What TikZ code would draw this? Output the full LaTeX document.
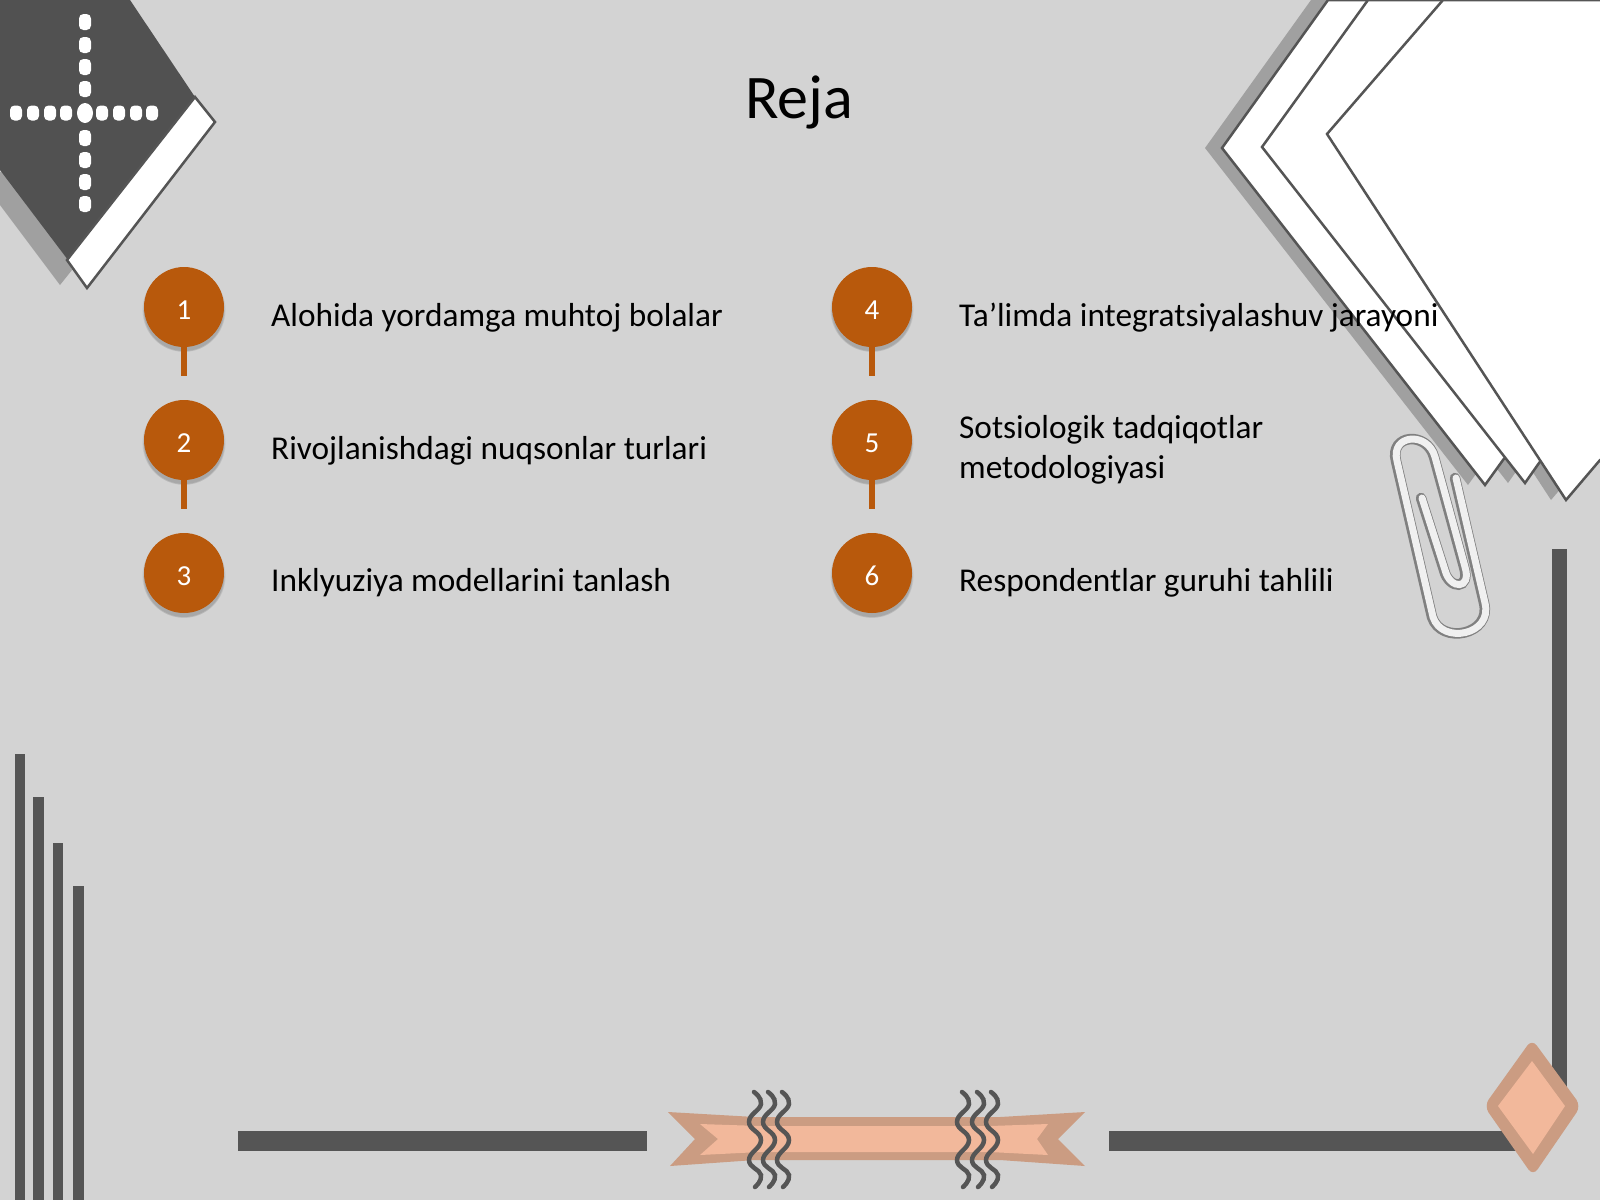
\documentclass[tikz,border=0pt]{standalone}
\usepackage{fontspec}
\setmainfont{Carlito}
\usetikzlibrary{shadows}
\definecolor{pagegray}{HTML}{D3D3D3}
\definecolor{bardark}{HTML}{555555}
\definecolor{sheetshade}{HTML}{A0A0A0}
\definecolor{rust}{HTML}{B8590C}
\definecolor{peach}{HTML}{F2B89B}
\definecolor{peachdark}{HTML}{CB9C82}
\tikzset{
  numdot/.style={circle,fill=rust,minimum size=80pt,inner sep=0pt,text=white,
    text height=24pt,text depth=0pt,font=\fontsize{29}{34}\selectfont,
    drop shadow={shadow xshift=0pt,shadow yshift=-3pt,shadow scale=1.04,opacity=.05,fill=black},
    drop shadow={shadow xshift=0pt,shadow yshift=-4pt,shadow scale=1.02,opacity=.07,fill=black},
    drop shadow={shadow xshift=0pt,shadow yshift=-4pt,shadow scale=1,opacity=.09,fill=black}},
  stem/.style={draw=rust,line width=5.5pt},
  item/.style={anchor=west,align=left,inner sep=0pt,font=\fontsize{33.3}{40}\selectfont},
  sheet/.style={fill=white,draw=bardark,line width=2.5pt,line join=miter},
  bar/.style={fill=bardark},
  bookdot/.style={fill=white,rounded corners=4.5pt},
  wave/.style={draw=bardark,line width=4.5pt,line cap=round},
}
\def\sheetone{(1328,0) -- (1222,148) -- (1485,485) -- (1503,460) -- (1520,440) -- (1400,0)}
\def\sheettwo{(1368,0) -- (1262,147) -- (1525,483) -- (1539,463) -- (1560,440) -- (1450,0)}
\def\sheetthree{(1443,0) -- (1327,134) -- (1566,500) -- (1600,460) -- (1620,460) -- (1620,0)}
\def\clippath{(1422,498) -- (1445,570) .. controls (1450,590) and (1472,590) .. (1465,567) -- (1435,457) .. controls (1428,431) and (1390,434) .. (1397,461) -- (1433,617) .. controls (1442,645) and (1493,635) .. (1485,603) -- (1456,478)}
\begin{document}
\begin{tikzpicture}[x=1pt,y=-1pt]
\useasboundingbox (0,0) rectangle (1600,1200);
\fill[pagegray] (0,0) rectangle (1600,1200);
\clip (0,0) rectangle (1600,1200);

% book corner
\fill[sheetshade] (0,172) -- (0,205) -- (60,285) -- (72,270) -- (30,172) -- cycle;
\fill[bardark!95!black] (0,0) -- (130,0) -- (195,97) -- (68,260) -- (0,170) -- cycle;
\draw[sheet] (195,97) -- (215,122) -- (87,288) -- (67,260) -- cycle;
\foreach \y in {22,45,67,89,138,160,182,204}
  \fill[bookdot] (85-6,\y-8) rectangle (85+6,\y+8);
\foreach \x in {16,33,50,66,102,119,136,152}
  \fill[bookdot] (\x-6,113-7.5) rectangle (\x+6,113+7.5);
\fill[white] (85,113) ellipse (8pt and 10pt);

% sheets
\fill[sheetshade,xshift=-17pt] \sheetone -- cycle;
\fill[sheetshade,xshift=-17pt] \sheettwo -- cycle;
\fill[sheetshade,xshift=-15pt] \sheetthree -- cycle;
\draw[sheet] \sheetone -- cycle;
\draw[sheet] \sheettwo -- cycle;
\draw[sheet] \sheetthree -- cycle;

% paper clip
\draw[draw=gray,line width=10.5pt,line cap=round,xshift=-1pt] \clippath;
\draw[draw=white!94!black,line width=7pt,line cap=round] \clippath;

% bars
\fill[bar] (15,754) rectangle (25,1200);
\fill[bar] (33,797) rectangle (44,1200);
\fill[bar] (53,843) rectangle (63,1200);
\fill[bar] (73,886) rectangle (84,1200);
\fill[bar] (238,1131) rectangle (647,1151);
\fill[bar] (1109,1131) rectangle (1520,1151);
\fill[bar] (1552,549) rectangle (1567,1090);

% ribbon
\fill[peachdark] (668,1112) -- (755,1117) -- (1000,1117) -- (1085,1112) -- (1058,1139) -- (1085,1166) -- (1000,1160) -- (755,1160) -- (670,1166) -- (695,1139) -- cycle;
\fill[peach] (700,1124) -- (760,1126) -- (990,1126) -- (1048,1124) -- (1037,1139) -- (1048,1155) -- (990,1152) -- (760,1152) -- (700,1155) -- (718,1139) -- cycle;
\foreach \x in {757,771,785,965,980,994}
  \draw[wave,xshift=\x pt] plot[smooth,tension=.8] coordinates {(-3,1092) (4,1104) (-8,1122) (4,1140) (-8,1160) (4,1175) (-2,1187)};

% diamond
\fill[peachdark,rounded corners=8pt] (1532,1039) -- (1581,1106) -- (1533,1176) -- (1484,1106) -- cycle;
\fill[peach] (1532,1061) -- (1565,1106) -- (1533,1154) -- (1498,1106) -- cycle;

% title and list
\node[font=\fontsize{62}{74}\selectfont] (title) at (799,102) {Reja};

\node[numdot] (n1) at (184,307) {1};
\node[numdot] (n2) at (184,440) {2};
\node[numdot] (n3) at (184,573) {3};
\node[numdot] (n4) at (872,307) {4};
\node[numdot] (n5) at (872,440) {5};
\node[numdot] (n6) at (872,573) {6};

\coordinate (e1) at (184,376);
\coordinate (e2) at (184,509);
\coordinate (e4) at (872,376);
\coordinate (e5) at (872,509);
\foreach \a/\b in {n1/e1,n2/e2,n4/e4,n5/e5}
  \draw[stem] (\a.south) -- (\b);

\node[item] (t1) at (271,318) {Alohida yordamga muhtoj bolalar};
\node[item] (t2) at (271,451) {Rivojlanishdagi nuqsonlar turlari};
\node[item] (t3) at (271,583) {Inklyuziya modellarini tanlash};
\node[item] (t4) at (959,318) {Ta’limda integratsiyalashuv jarayoni};
\node[item] (t5) at (959,450) {Sotsiologik tadqiqotlar\\metodologiyasi};
\node[item] (t6) at (959,583) {Respondentlar guruhi tahlili};
\end{tikzpicture}
\end{document}
